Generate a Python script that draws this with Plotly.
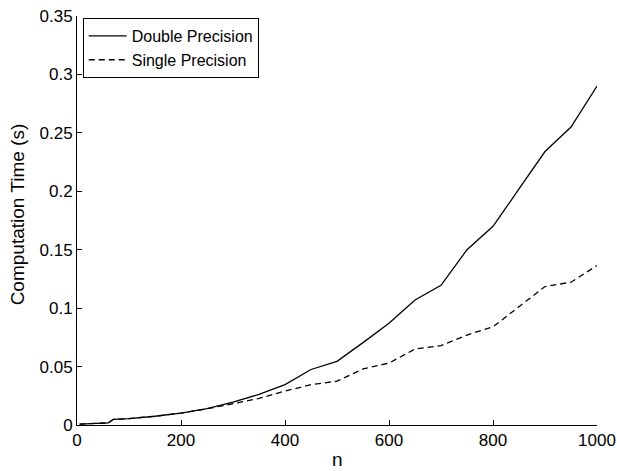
import plotly.graph_objects as go

n_values = [5, 60, 70, 100, 150, 200, 250, 300, 350, 400, 450, 500, 550, 600, 650, 700, 750, 800, 850, 900, 950, 1000]
double_time = [0.0008, 0.0018, 0.0049, 0.0055, 0.0075, 0.0102, 0.0140, 0.0195, 0.0262, 0.0345, 0.0475, 0.0545, 0.0705, 0.0870, 0.1070, 0.1195, 0.1500, 0.1700, 0.2020, 0.2340, 0.2550, 0.2900]
single_time = [0.0008, 0.0018, 0.0049, 0.0055, 0.0075, 0.0102, 0.0138, 0.0180, 0.0228, 0.0290, 0.0345, 0.0375, 0.0480, 0.0530, 0.0650, 0.0680, 0.0770, 0.0840, 0.1010, 0.1185, 0.1222, 0.1365]

x_ticks = [0, 200, 400, 600, 800, 1000]
y_ticks = [0, 0.05, 0.1, 0.15, 0.2, 0.25, 0.3, 0.35]
y_tick_labels = ["0", "0.05", "0.1", "0.15", "0.2", "0.25", "0.3", "0.35"]

fig = go.Figure()
fig.add_trace(go.Scatter(x=n_values, y=double_time, mode="lines", name="Double Precision",
                         line=dict(color="black", width=1.3)))
fig.add_trace(go.Scatter(x=n_values, y=single_time, mode="lines", name="Single Precision",
                         line=dict(color="black", width=1.3, dash="6px,4px")))

font_family = "Liberation Sans, Arial, Helvetica, sans-serif"
fig.update_layout(
    width=617, height=471,
    margin=dict(l=77, r=20, t=16, b=46, autoexpand=False),
    paper_bgcolor="white", plot_bgcolor="white",
    font=dict(family=font_family, size=17, color="black"),
    showlegend=True,
    legend=dict(x=0.011, y=0.995, xanchor="left", yanchor="top",
                bordercolor="black", borderwidth=1, bgcolor="white",
                font=dict(size=16), tracegroupgap=0, itemwidth=38),
    xaxis=dict(range=[0, 1000], tickvals=x_ticks, ticks="inside", ticklen=5,
               tickcolor="black", showline=True, linecolor="black", linewidth=1,
               showgrid=False, zeroline=False, mirror=False, automargin=False,
               tickfont=dict(size=17)),
    yaxis=dict(range=[0, 0.35], tickvals=y_ticks, ticktext=y_tick_labels, ticks="inside",
               ticklen=5, tickcolor="black", showline=True, linecolor="black", linewidth=1,
               showgrid=False, zeroline=False, mirror=False, automargin=False,
               tickfont=dict(size=17)),
    annotations=[
        dict(text="n", xref="paper", yref="paper", x=0.5, y=0, yshift=-34,
             xanchor="center", yanchor="middle", showarrow=False, font=dict(size=19)),
        dict(text="Computation Time (s)", xref="paper", yref="paper", x=0, xshift=-60,
             y=0.515, xanchor="center", yanchor="middle", textangle=-90,
             showarrow=False, font=dict(size=19)),
    ],
)

fig.write_html("out.html", config={"displayModeBar": False},
               post_script="document.body.style.margin='0';document.body.style.overflow='hidden';")
